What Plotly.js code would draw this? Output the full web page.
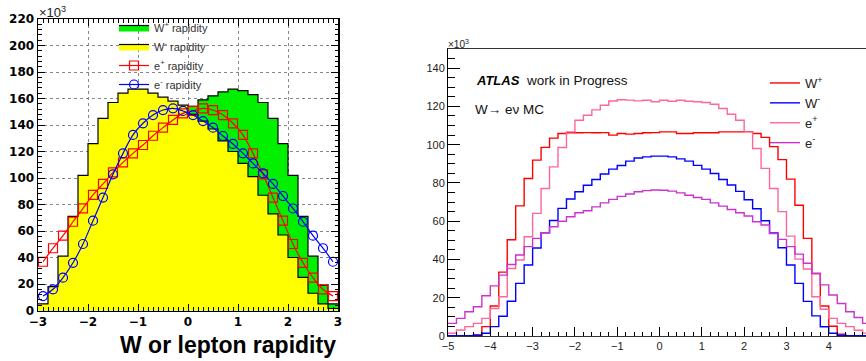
<!DOCTYPE html>
<html><head><meta charset="utf-8">
<script src="https://cdn.plot.ly/plotly-3.0.1.min.js"></script>
<style>html,body{margin:0;padding:0;background:#fff;overflow:hidden}#chart{width:866px;height:361px}</style>
</head><body><div id="chart"></div><script>
// ---- Left panel: W and lepton rapidity (bins of 0.2 from -3 to 3)
const leftEdges = [-3,-2.8,-2.6,-2.4,-2.2,-2,-1.8,-1.6,-1.4,-1.2,-1,-0.8,-0.6,-0.4,-0.2,0,0.2,0.4,0.6,0.8,1,1.2,1.4,1.6,1.8,2,2.2,2.4,2.6,2.8,3];
const wPlusLeft  = [1.5,5,13,25,40,57,73,87,101,111,120,128,137,143,148,154,159,162,165,167,166,163,157,145,126,102,71,41,19,5];
const wMinusLeft = [5,18,41,71,102,126,145,157,164,167,167,164,161,158,155,148,143,137,128,120,111,101,87,73,57,40,25,13,5,1.5];
const ePlusLeft  = [36.8,47,56.5,67,77.1,87.2,95.5,104.3,111.8,118.6,124.9,131.9,138,143.8,148.8,150.6,152.6,151.3,147.5,141.3,132.5,118.6,102.8,85.2,67.8,50.2,36,24.8,16,10.9];
const eMinusLeft = [10.9,16,24.8,36,50.2,67.8,85.2,102.8,118.6,132.5,141.3,147.5,151.3,152.6,150.6,147.5,143,138,131.7,125.7,118.6,111,103.5,95.5,86.4,77,67,56.5,47,36.8];
const leftYTicks = [0,20,40,60,80,100,120,140,160,180,200,220];
const leftXTicks = [-3,-2,-1,0,1,2,3];

// ---- Right panel: W -> e nu MC (bins of 0.2 from -5 to 5)
const rightEdges = [-5,-4.8,-4.6,-4.4,-4.2,-4,-3.8,-3.6,-3.4,-3.2,-3,-2.8,-2.6,-2.4,-2.2,-2,-1.8,-1.6,-1.4,-1.2,-1,-0.8,-0.6,-0.4,-0.2,0,0.2,0.4,0.6,0.8,1,1.2,1.4,1.6,1.8,2,2.2,2.4,2.6,2.8,3,3.2,3.4,3.6,3.8,4,4.2,4.4,4.6,4.8,5];
const wPlusRight  = [0,0,0.1,0.6,4.9,15.7,33.4,50.3,68,82.3,91.9,98.6,103.4,105.8,106.2,106.2,106.3,106.2,106.3,105,105.8,105.5,105.8,106.2,106.3,106.7,106.7,105.8,105.8,106.2,106.2,106.2,106.7,106.7,106.7,106.8,105.8,103.8,99,92.2,82,68.3,51,32.7,15.7,5.1,1,0.1,0,0];
const wMinusRight = [0.1,0.1,0.2,0.4,1.4,4.9,10.3,18.2,27.5,37.1,46,54,60.4,66.7,71.6,75.4,78.8,81.8,84.7,87.2,89.1,91.4,93,93.6,94,94,93.6,92.6,91.4,89.2,87.2,84.9,81.8,78.9,75.6,71.2,66.5,60.2,53.8,46.1,37.1,27.5,18.1,10.5,4.8,1.4,0.4,0.2,0.1,0.1];
const ePlusRight  = [1.4,3.1,4.9,6.6,9.2,14.4,20.5,35.3,39.7,51.9,64.1,77.1,88.4,98.5,106.7,112.8,115.4,118.2,120.6,122.8,123.5,123.3,122.9,123.2,122.4,123.2,122.7,123.2,122.7,122.4,122,121.1,118.9,115.9,112.8,106.7,98,87.6,77.1,65,52.2,40.2,35,20.5,14,9.2,6.6,4.9,3,1.5];
const eMinusRight = [6.6,9.2,12.7,15.3,21,26.2,31.8,37.4,42.3,46.7,51,54,57.1,60,62.3,64.4,65.5,67.5,69.6,71.4,73,74.2,75.4,76,76.3,76.2,75.7,74.8,73.6,72.4,71.4,69.6,67.9,66.1,64.4,62.7,59.7,58,53.6,50.5,46.7,42.8,38,32.7,26.7,21.4,17,12.7,9.7,6.6];

const W = 866, H = 361;
const px = v => v / W, py = v => 1 - v / H;
const stepY = vals => vals.concat([vals[vals.length - 1]]);
const centers = edges => edges.slice(0, -1).map((e, i) => (e + edges[i + 1]) / 2);

const traces = [
  {x: leftEdges, y: stepY(wPlusLeft), type: 'scatter', mode: 'lines', line: {shape: 'hv', color: '#000', width: 1.2},
   fill: 'tozeroy', fillcolor: '#00f000', name: 'W<sup>+</sup> rapidity', xaxis: 'x', yaxis: 'y', legend: 'legend'},
  {x: leftEdges, y: stepY(wMinusLeft), type: 'scatter', mode: 'lines', line: {shape: 'hv', color: '#000', width: 1.2},
   fill: 'tozeroy', fillcolor: '#ffff00', name: 'W<sup>-</sup> rapidity', xaxis: 'x', yaxis: 'y', legend: 'legend'},
  {x: centers(leftEdges), y: ePlusLeft, type: 'scatter', mode: 'lines+markers', line: {shape: 'spline', color: '#ff0000', width: 1.2},
   marker: {symbol: 'square-open', size: 9, color: '#ff0000', line: {width: 1.2}}, name: 'e<sup>+</sup> rapidity', xaxis: 'x', yaxis: 'y', legend: 'legend'},
  {x: centers(leftEdges), y: eMinusLeft, type: 'scatter', mode: 'lines+markers', line: {shape: 'spline', color: '#0000ff', width: 1.2},
   marker: {symbol: 'circle-open', size: 9, color: '#0000ff', line: {width: 1.2}}, name: 'e<sup>-</sup> rapidity', xaxis: 'x', yaxis: 'y', legend: 'legend'},

  {x: rightEdges, y: stepY(wPlusRight), type: 'scatter', mode: 'lines', line: {shape: 'hv', color: '#ff0000', width: 1.4},
   name: 'W<sup>+</sup>', xaxis: 'x2', yaxis: 'y2', legend: 'legend2', legendgroup: 'a'},
  {x: rightEdges, y: stepY(wMinusRight), type: 'scatter', mode: 'lines', line: {shape: 'hv', color: '#0000ff', width: 1.4},
   name: 'W<sup>-</sup>', xaxis: 'x2', yaxis: 'y2', legend: 'legend2', legendgroup: 'b'},
  {x: rightEdges, y: stepY(ePlusRight), type: 'scatter', mode: 'lines', line: {shape: 'hv', color: '#ff6699', width: 1.4},
   name: 'e<sup>+</sup>', xaxis: 'x2', yaxis: 'y2', legend: 'legend2', legendgroup: 'c'},
  {x: rightEdges, y: stepY(eMinusRight), type: 'scatter', mode: 'lines', line: {shape: 'hv', color: '#cc33cc', width: 1.4},
   name: 'e<sup>-</sup>', xaxis: 'x2', yaxis: 'y2', legend: 'legend2', legendgroup: 'd'}
];

const boldTick = {family: 'DejaVu Sans, sans-serif', size: 12, color: '#000', weight: 700};
const plainTick = {family: 'Liberation Sans, Arial, sans-serif', size: 11, color: '#222'};

const layout = {
  width: W, height: H,
  margin: {l: 0, r: 0, t: 0, b: 0},
  paper_bgcolor: '#fff', plot_bgcolor: 'rgba(0,0,0,0)',
  showlegend: true,
  xaxis: {domain: [px(38), px(338)], range: [-3, 3], anchor: 'y', tickvals: leftXTicks, ticks: 'inside', ticklen: 7, tickwidth: 1, tickcolor: '#000',
    showline: true, linecolor: '#000', linewidth: 1.5, mirror: 'allticks', showgrid: true, gridcolor: '#888', griddash: 'dot', gridwidth: 1,
    zeroline: false, tickfont: boldTick, minor: {dtick: 0.1, tick0: 0, ticks: 'inside', ticklen: 3.5, tickcolor: '#000', showgrid: false}},
  yaxis: {domain: [py(310.5), py(19)], range: [0, 220], anchor: 'x', tickvals: leftYTicks, ticks: 'inside', ticklen: 7, tickwidth: 1, tickcolor: '#000',
    showline: true, linecolor: '#000', linewidth: 1.5, mirror: 'allticks', showgrid: true, gridcolor: '#888', griddash: 'dot', gridwidth: 1,
    zeroline: false, tickfont: boldTick, minor: {dtick: 4, tick0: 0, ticks: 'inside', ticklen: 3.5, tickcolor: '#000', showgrid: false}},
  xaxis2: {domain: [px(448), 1], range: [-5, 4.88], anchor: 'y2', dtick: 1, tick0: 0, ticks: 'inside', ticklen: 9, tickwidth: 1, tickcolor: '#000',
    showline: true, linecolor: '#333', linewidth: 1, mirror: true, showgrid: false, zeroline: false, tickfont: plainTick,
    minor: {dtick: 0.2, tick0: 0, ticks: 'inside', ticklen: 4.5, tickcolor: '#000', showgrid: false}},
  yaxis2: {domain: [py(336), py(49)], range: [0, 150], anchor: 'x2', dtick: 20, tick0: 0, ticks: 'inside', ticklen: 12, tickwidth: 1, tickcolor: '#000',
    showline: true, linecolor: '#000', linewidth: 1, mirror: false, showgrid: false, zeroline: false, tickfont: plainTick,
    minor: {dtick: 5, tick0: 0, ticks: 'inside', ticklen: 6.5, tickcolor: '#000', showgrid: false}},
  legend: {x: px(114), y: py(13), xanchor: 'left', yanchor: 'top', bgcolor: 'rgba(0,0,0,0)', borderwidth: 0,
    font: {family: 'Liberation Sans, Arial, sans-serif', size: 11, color: '#333'}, traceorder: 'normal'},
  legend2: {x: px(765), y: py(68), xanchor: 'left', yanchor: 'top', bgcolor: 'rgba(0,0,0,0)', borderwidth: 0,
    font: {family: 'Liberation Sans, Arial, sans-serif', size: 13, color: '#222'}, traceorder: 'normal', tracegroupgap: 2},
  annotations: [
    {xref: 'paper', yref: 'paper', x: px(37), y: py(12), xanchor: 'left', yanchor: 'middle', showarrow: false,
     text: '×10<sup>3</sup>', font: {family: 'Liberation Sans, Arial, sans-serif', size: 13, color: '#222'}},
    {xref: 'paper', yref: 'paper', x: px(338), y: py(345), xanchor: 'right', yanchor: 'middle', showarrow: false,
     text: 'W or lepton rapidity', font: {family: 'Liberation Sans, Arial, sans-serif', size: 23, color: '#000', weight: 700}},
    {xref: 'paper', yref: 'paper', x: px(446), y: py(44), xanchor: 'left', yanchor: 'middle', showarrow: false,
     text: '×10<sup>3</sup>', font: {family: 'Liberation Sans, Arial, sans-serif', size: 10, color: '#222'}},
    {xref: 'paper', yref: 'paper', x: px(474), y: py(80), xanchor: 'left', yanchor: 'middle', showarrow: false,
     text: '<b><i>ATLAS</i></b>', font: {family: 'Liberation Sans, Arial, sans-serif', size: 13, color: '#000'}},
    {xref: 'paper', yref: 'paper', x: px(524), y: py(80), xanchor: 'left', yanchor: 'middle', showarrow: false,
     text: 'work in Progress', font: {family: 'Liberation Sans, Arial, sans-serif', size: 13.5, color: '#111'}},
    {xref: 'paper', yref: 'paper', x: px(473), y: py(110), xanchor: 'left', yanchor: 'middle', showarrow: false,
     text: 'W→ eν MC', font: {family: 'Liberation Sans, Arial, sans-serif', size: 13.5, color: '#111'}}
  ]
};

Plotly.newPlot('chart', traces, layout, {displayModeBar: false, staticPlot: true});
</script></body></html>
